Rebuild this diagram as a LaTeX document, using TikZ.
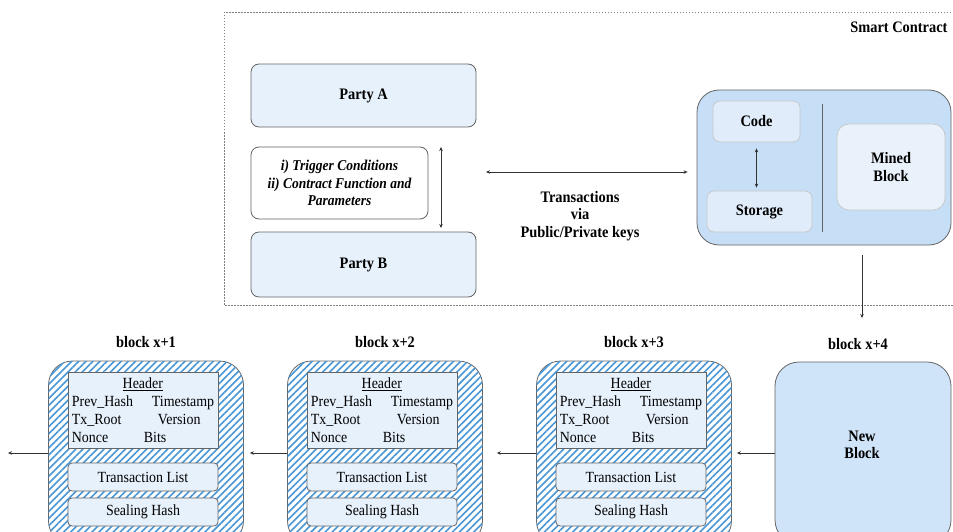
\documentclass[tikz,border=0pt]{standalone}
\usepackage{fontspec}
\setmainfont{Liberation Serif}[FakeStretch=0.9]
\usetikzlibrary{positioning,arrows.meta,patterns.meta,calc}

\definecolor{partyfill}{RGB}{231,241,252}
\definecolor{scfill}{RGB}{198,223,247}
\definecolor{newfill}{RGB}{207,228,249}
\definecolor{innerfill}{RGB}{224,236,249}
\definecolor{hatchblue}{RGB}{72,150,214}
\definecolor{boxline}{RGB}{100,100,100}

\begin{document}
\begin{tikzpicture}[
    x=1pt, y=-1pt,
    % Stilusok a dobozokhoz
    rbox/.style={draw=boxline, line width=0.8pt, rounded corners=8pt,
        fill=partyfill, inner sep=0pt, align=center,
        font=\fontsize{16}{17.5}\selectfont\bfseries},
    inbox/.style={draw=gray!45, line width=0.7pt, rounded corners=7pt,
        fill=innerfill, inner sep=0pt, align=center,
        font=\fontsize{16}{17.5}\selectfont\bfseries},
    blockbox/.style={draw=boxline, line width=0.8pt, rounded corners=24pt,
        fill=white, minimum width=195pt, minimum height=184pt,
        postaction={pattern={Lines[angle=45,distance=5pt,line width=1.6pt]},
            pattern color=hatchblue}},
    fieldbox/.style={draw=boxline, line width=0.8pt, rounded corners=4pt,
        fill=partyfill, minimum width=150pt, inner sep=0pt,
        font=\fontsize{15.5}{16}\selectfont},
    blocklbl/.style={font=\fontsize{16}{17}\selectfont\bfseries},
    dbl/.style={{Stealth[length=4pt,width=3.5pt]}-{Stealth[length=4pt,width=3.5pt]},
        line width=0.8pt, draw=black!80},
    one/.style={-{Stealth[length=4pt,width=3.5pt]}, line width=0.8pt, draw=black!80}
]
    \useasboundingbox (0,0) rectangle (953,532);

    % Smart contract keret
    \draw[gray, line width=0.7pt, dash pattern=on 1.5pt off 1.5pt] (224,12) rectangle (965,305);
    \node[blocklbl, anchor=east] (sctitle) at (951,27) {Smart Contract};

    % Felek es feltetelek
    \node[rbox, minimum width=225pt, minimum height=63pt] (partyA) at (363.5,95.5) {Party A};
    \node[rbox, fill=white, minimum width=177pt, minimum height=72pt,
        font=\fontsize{15}{17.5}\selectfont\bfseries\itshape] (trigger) at (339.5,183)
        {i) Trigger Conditions\\ ii) Contract Function and\\ Parameters};
    \node[rbox, minimum width=225pt, minimum height=65pt] (partyB) at (363.5,264.5) {Party B};

    \coordinate (ab top) at (441,147);
    \coordinate (ab bot) at (441,228);
    \draw[dbl] (ab top) -- (ab bot);

    % Szerzodes doboz
    \node[draw=boxline, line width=0.8pt, rounded corners=22pt, fill=scfill,
        minimum width=254pt, minimum height=155pt] (sc) at (824,167.5) {};
    \node[inbox, minimum width=87pt, minimum height=41pt] (code) at (756.5,121.5) {Code};
    \node[inbox, minimum width=105pt, minimum height=41pt] (storage) at (759.5,211.5) {Storage};
    \node[inbox, rounded corners=12pt, fill=innerfill!70!white, minimum width=108pt,
        minimum height=86pt] (mined) at (891,167) {Mined\\ Block};
    \draw[dbl, shorten <=6pt, shorten >=3pt] (code.south) -- (code.south |- storage.north);
    \coordinate (div top) at (822,104);
    \coordinate (div bot) at (822,232);
    \draw[boxline, line width=0.6pt] (div top) -- (div bot);

    % Tranzakciok
    \coordinate (tx left) at (486,172);
    \draw[dbl, shorten >=9pt] (tx left) -- (tx left -| sc.west);
    \node[blocklbl, align=center, font=\fontsize{16}{17.5}\selectfont\bfseries] (txlabel) at (580,216)
        {Transactions\\ via\\ Public/Private keys};

    % Blokklanc
    \foreach \i/\x/\lab in {1/146/x+1, 2/385/x+2, 3/634/x+3} {
        \node[blockbox] (blk\i) at (\x,453) {};
        \node[blocklbl] (lbl\i) at (\x,342) {block \lab};
        \node[fieldbox, minimum height=76pt, rounded corners=0pt, align=left,
            font=\fontsize{15.5}{18}\selectfont] (hdr\i) at (\x-3,410)
            {\makebox[142pt]{\underline{Header}}\\
             \makebox[80pt][l]{Prev\_Hash}Timestamp\\
             \makebox[86pt][l]{Tx\_Root}Version\\
             \makebox[72pt][l]{Nonce}Bits};
        \node[fieldbox, minimum height=28pt] (txlist\i) at (\x-3,477) {Transaction List};
        \node[fieldbox, minimum height=28pt] (seal\i) at (\x-3,512) {Sealing Hash};
    }

    \node[draw=boxline, line width=0.8pt, rounded corners=24pt, fill=newfill,
        minimum width=176pt, minimum height=182pt] (newblk) at (863,453) {};
    \node[align=center, font=\fontsize{16}{17.5}\selectfont\bfseries] (newtxt) at (862,445) {New\\ Block};
    \node[blocklbl] (lbl4) at (858,344) {block x+4};

    % Nyilak
    \coordinate (down top) at (862,255);
    \coordinate (down bot) at (862,318);
    \draw[one] (down top) -- (down bot);
    \draw[one, shorten >=5pt] (newblk.west) -- (blk3.east);
    \draw[one, shorten >=14pt] (blk3.west) -- (blk2.east);
    \draw[one, shorten >=6pt] (blk2.west) -- (blk1.east);
    \coordinate (chain end) at (8,453);
    \draw[one] (blk1.west) -- (chain end);
\end{tikzpicture}
\end{document}
